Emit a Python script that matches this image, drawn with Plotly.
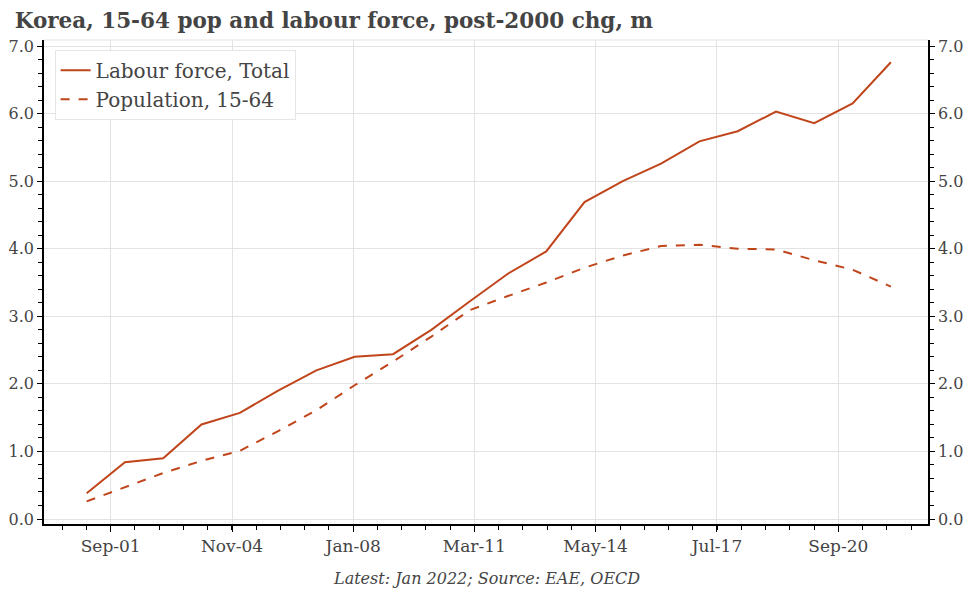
import pandas as pd
import plotly.graph_objects as go

years = list(range(2001, 2023))
dates = [f"{y}-01-15" for y in years]

labour_force = [0.38, 0.84, 0.90, 1.40, 1.57, 1.90, 2.20, 2.40, 2.44, 2.80, 3.22,
                3.63, 3.96, 4.69, 5.00, 5.26, 5.59, 5.74, 6.03, 5.86, 6.15, 6.76]
population = [0.26, 0.47, 0.68, 0.86, 1.01, 1.30, 1.61, 1.98, 2.33, 2.70, 3.09,
              3.30, 3.50, 3.72, 3.90, 4.04, 4.06, 4.00, 3.99, 3.83, 3.69, 3.44]

tick_labels_dates = ["2001-09-01", "2004-11-01", "2008-01-01", "2011-03-01",
                     "2014-05-01", "2017-07-01", "2020-09-01"]

COLOR = "#C0451B"
TXT = "#444444"
GRID = "#e3e3e3"
FONT = "DejaVu Serif"

t0 = pd.Timestamp(tick_labels_dates[0])
t1 = pd.Timestamp(tick_labels_dates[-1])
step = (t1 - t0) / 30
minor_vals = [(t0 + k * step).strftime("%Y-%m-%d") for k in range(-3, 34)]

fig = go.Figure()
fig.add_trace(go.Scatter(x=dates, y=labour_force, mode="lines", name="Labour force, Total",
                         line=dict(color=COLOR, width=2)))
fig.add_trace(go.Scatter(x=dates, y=population, mode="lines", name="Population, 15-64",
                         line=dict(color=COLOR, width=2, dash="dash")))
# empty helper trace so the right-hand axis is drawn
fig.add_trace(go.Scatter(x=[dates[0]], y=[None], yaxis="y2", mode="lines",
                         showlegend=False, hoverinfo="skip"))

yrange = [-0.074, 7.09]
ytick_vals = [0, 1, 2, 3, 4, 5, 6, 7]

common_y = dict(range=yrange, tickvals=ytick_vals, tickformat=".1f",
                showline=True, linecolor="black", linewidth=1.5,
                ticks="outside", ticklen=5, tickcolor="black",
                tickfont=dict(family=FONT, size=16, color=TXT),
                minor=dict(dtick=0.2, tick0=0, ticks="outside", ticklen=4,
                           tickcolor="black", showgrid=False),
                zeroline=False, automargin=False)

fig.update_layout(
    width=964, height=581,
    margin=dict(l=36, r=44, t=32, b=65),
    paper_bgcolor="white", plot_bgcolor="white",
    font=dict(family=FONT, color=TXT, size=15),
    title=dict(text="<b>Korea, 15-64 pop and labour force, post-2000 chg, m</b>",
               x=0.007, xanchor="left", y=0.979, yanchor="middle",
               font=dict(family=FONT, size=21.5, color=TXT)),
    showlegend=True,
    legend=dict(x=0.012, y=0.98, xanchor="left", yanchor="top",
                bgcolor="white", bordercolor="#e6e6e6", borderwidth=1,
                font=dict(family=FONT, size=20, color=TXT),
                tracegroupgap=0, itemwidth=30),
    xaxis=dict(type="date", range=["1999-12-05", "2023-01-04"],
               tickmode="array", tickvals=tick_labels_dates, tickformat="%b-%y",
               showgrid=True, gridcolor=GRID, gridwidth=1,
               showline=True, linecolor="black", linewidth=1.5,
               ticks="outside", ticklen=6, tickcolor="black",
               tickfont=dict(family=FONT, size=17, color=TXT),
               minor=dict(tickmode="array", tickvals=minor_vals, ticks="outside",
                          ticklen=4, tickcolor="black", showgrid=False),
               zeroline=False, automargin=False),
    yaxis=dict(showgrid=True, gridcolor=GRID, gridwidth=1, **common_y),
    yaxis2=dict(overlaying="y", side="right", showgrid=False, **common_y),
    annotations=[dict(text="<i>Latest: Jan 2022; Source: EAE, OECD</i>",
                      xref="paper", yref="paper", x=0.5, y=-0.112,
                      xanchor="center", yanchor="middle", showarrow=False,
                      font=dict(family=FONT, size=16, color=TXT))],
    shapes=[dict(type="line", xref="paper", yref="paper", x0=0, x1=1, y0=1, y1=1,
                 line=dict(color=GRID, width=1))],
)

fig.write_html("out.html")
